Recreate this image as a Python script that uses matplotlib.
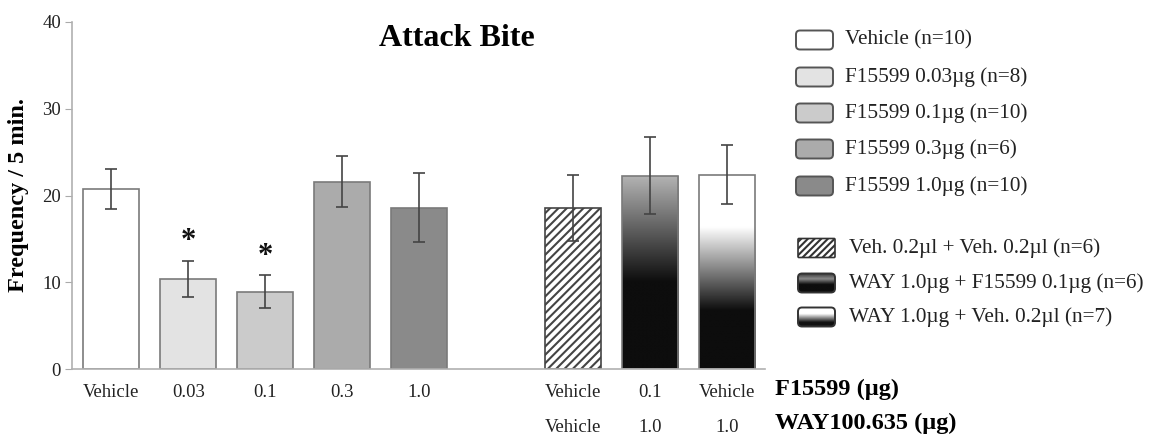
import numpy as np
import matplotlib
matplotlib.use("Agg")
import matplotlib.pyplot as plt
from matplotlib.patches import FancyBboxPatch
from matplotlib.transforms import blended_transform_factory
from matplotlib.colors import LinearSegmentedColormap

plt.rcParams['font.family'] = ['Liberation Serif', 'DejaVu Serif']
plt.rcParams['hatch.linewidth'] = 1.5

# ---- data ----
positions = [0, 1, 2, 3, 4, 6, 7, 8]
means = [20.8, 10.4, 8.9, 21.6, 18.6, 18.6, 22.3, 22.4]
errors = [2.3, 2.1, 1.9, 2.9, 4.0, 3.8, 4.4, 3.4]
row1_labels = ['Vehicle', '0.03', '0.1', '0.3', '1.0', 'Vehicle', '0.1', 'Vehicle']
row2_positions = [6, 7, 8]
row2_labels = ['Vehicle', '1.0', '1.0']
solid_colors = ['#ffffff', '#e3e3e3', '#cbcbcb', '#ababab', '#8a8a8a']
star_positions = [1, 2]
legend_labels_1 = ['Vehicle (n=10)', 'F15599 0.03µg (n=8)', 'F15599 0.1µg (n=10)',
                   'F15599 0.3µg (n=6)', 'F15599 1.0µg (n=10)']
legend_labels_2 = ['Veh. 0.2µl + Veh. 0.2µl (n=6)', 'WAY 1.0µg + F15599 0.1µg (n=6)',
                   'WAY 1.0µg + Veh. 0.2µl (n=7)']

W, H = 1149, 438
fig = plt.figure(figsize=(W / 100, H / 100), dpi=100)
ax = fig.add_axes([72 / W, (H - 369) / H, (765 - 72) / W, (369 - 22) / H])

width = 0.73
edge = '#7a7a7a'
bars = ax.bar(positions, means, width=width, edgecolor=edge, linewidth=1.2, zorder=2)
for i, b in enumerate(bars):
    if i < 5:
        b.set_facecolor(solid_colors[i])
    elif i == 5:
        b.set_facecolor('white')
        b.set_hatch('////')
        b.set_edgecolor('#444444')
    else:
        b.set_facecolor('none')

# gradient fills
cm_black = LinearSegmentedColormap.from_list('blk', [(0, '#b4b4b4'), (0.55, '#0d0d0d'), (1, '#0d0d0d')])
cm_white = LinearSegmentedColormap.from_list('wht', [(0, '#ffffff'), (0.27, '#ffffff'), (0.7, '#0d0d0d'), (1, '#0d0d0d')])
grad = np.linspace(0, 1, 256).reshape(-1, 1)
for idx, cmap in [(6, cm_black), (7, cm_white)]:
    b = bars[idx]
    x0 = b.get_x(); x1 = x0 + b.get_width(); top = b.get_height()
    im = ax.imshow(grad, cmap=cmap, extent=[x0, x1, 0, top], origin='upper',
                   aspect='auto', zorder=1.5, interpolation='bilinear')
    im.set_clip_path(b)

ax.errorbar(positions, means, yerr=errors, fmt='none', ecolor='#444444',
            elinewidth=1.2, capsize=4, capthick=1.2, zorder=3)

for p in star_positions:
    ax.text(p, means[p] + errors[p] + 0.5, '*', ha='center', va='bottom',
            fontsize=22, fontweight='bold', color='#111111')

ax.set_xlim(-0.51, 8.49)
ax.set_ylim(0, 40)
ax.set_yticks([0, 10, 20, 30, 40])
ax.set_xticks(positions)
ax.set_xticklabels(row1_labels, fontsize=13.5, color='#222222')
ax.tick_params(axis='x', length=0, pad=11)
ax.tick_params(axis='y', length=5, color='#aaaaaa', labelsize=13.5, labelcolor='#222222', pad=3)
for s in ['top', 'right']:
    ax.spines[s].set_visible(False)
for s in ['left', 'bottom']:
    ax.spines[s].set_color('#b0b0b0')
    ax.spines[s].set_linewidth(1.2)
ax.set_ylabel('Frequency / 5 min.', fontsize=17.5, fontweight='bold')
ax.yaxis.set_label_coords(-(72 - 29) / 693, 0.5)

trans = blended_transform_factory(ax.transData, fig.transFigure)
for p, lab in zip(row2_positions, row2_labels):
    ax.text(p, (H - 428) / H, lab, transform=trans, ha='center', va='center',
            fontsize=13.5, color='#222222')

fig.text(775 / W, (H - 389) / H, 'F15599 (µg)', fontsize=17.5, fontweight='bold', va='center')
fig.text(775 / W, (H - 423) / H, 'WAY100.635 (µg)', fontsize=17.5, fontweight='bold', va='center')
fig.text(457 / W, (H - 38) / H, 'Attack Bite', fontsize=23, fontweight='bold', ha='center', va='center')

# ---- legend (pixel coordinates overlay) ----
lax = fig.add_axes([0, 0, 1, 1], facecolor='none')
lax.set_xlim(0, W); lax.set_ylim(H, 0); lax.axis('off')
rows1 = [40, 77, 113, 149, 186]
rows2 = [248, 283, 317]
sw_x, sw_w, sw_h = 796, 37, 19
for y, lab, col in zip(rows1, legend_labels_1, solid_colors):
    p = FancyBboxPatch((sw_x, y - sw_h / 2), sw_w, sw_h, boxstyle='round,pad=0,rounding_size=4',
                       facecolor=col, edgecolor='#555555', linewidth=1.4)
    lax.add_patch(p)
    lax.text(845, y, lab, fontsize=15.3, va='center', ha='left', color='#222222')

cm_leg_black = LinearSegmentedColormap.from_list('lb', [(0, '#303030'), (0.3, '#8a8a8a'), (0.6, '#0d0d0d'), (1, '#0d0d0d')])
cm_leg_white = LinearSegmentedColormap.from_list('lw', [(0, '#ffffff'), (0.35, '#ffffff'), (0.8, '#111111'), (1, '#111111')])
for k, (y, lab) in enumerate(zip(rows2, legend_labels_2)):
    if k == 0:
        p = FancyBboxPatch((sw_x + 2, y - sw_h / 2), sw_w, sw_h, boxstyle='round,pad=0,rounding_size=1',
                           facecolor='white', edgecolor='#333333', linewidth=1.2, hatch='/////')
        lax.add_patch(p)
    else:
        p = FancyBboxPatch((sw_x + 2, y - sw_h / 2), sw_w, sw_h, boxstyle='round,pad=0,rounding_size=4',
                           facecolor='none', edgecolor='#333333', linewidth=1.4, zorder=3)
        lax.add_patch(p)
        cmap = cm_leg_black if k == 1 else cm_leg_white
        im = lax.imshow(grad, cmap=cmap, extent=[sw_x + 2, sw_x + 2 + sw_w, y + sw_h / 2, y - sw_h / 2],
                        origin='upper', aspect='auto', zorder=2, interpolation='bilinear')
        im.set_clip_path(p)
    lax.text(849, y, lab, fontsize=15.3, va='center', ha='left', color='#222222')
lax.set_xlim(0, W); lax.set_ylim(H, 0)

fig.savefig('out.png', dpi=100)
